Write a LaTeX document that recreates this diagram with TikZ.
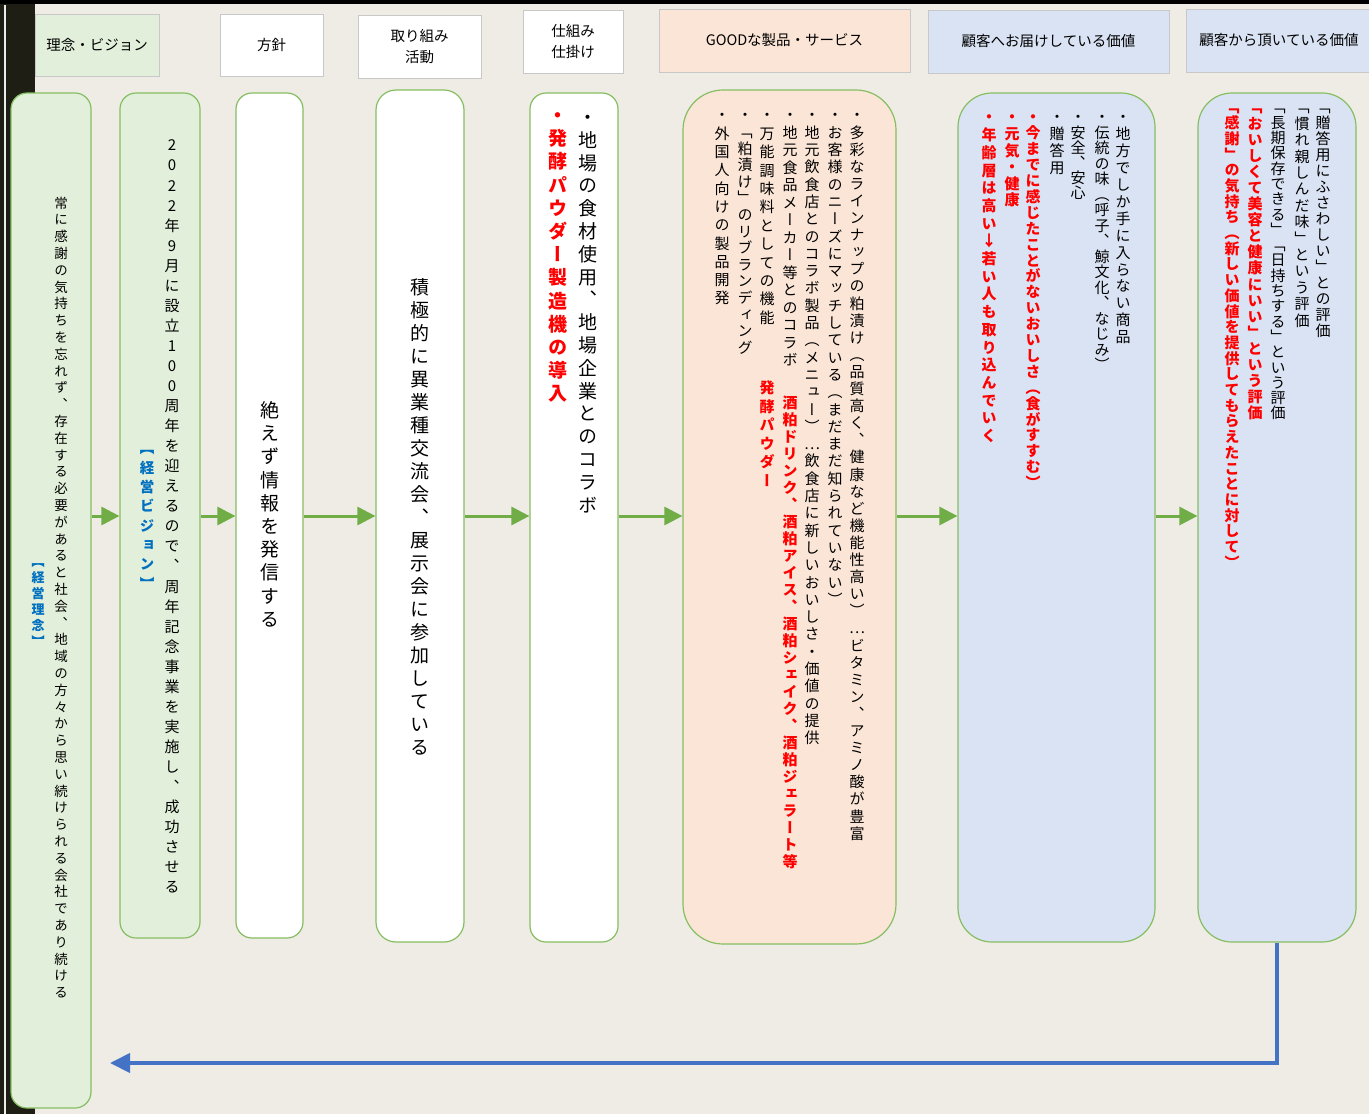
\documentclass[tikz,border=0pt]{standalone}
\usepackage{fontspec}
\usetikzlibrary{arrows.meta}
\newfontfamily\jpv[RawFeature=+vert]{Noto Sans CJK JP}
\newfontfamily\jph{Noto Sans CJK JP}
\definecolor{bgc}{HTML}{EFECE5}
\definecolor{band}{HTML}{1E1E14}
\definecolor{gfill}{HTML}{E2EFDA}
\definecolor{pfill}{HTML}{FBE5D6}
\definecolor{bfill}{HTML}{DAE3F3}
\definecolor{gborder}{HTML}{86BE62}
\definecolor{hborder}{HTML}{C8C8C8}
\definecolor{agreen}{HTML}{70AD47}
\definecolor{bline}{HTML}{4472C4}
\definecolor{rtxt}{HTML}{FF0000}
\definecolor{btxt}{HTML}{0070C0}
\ExplSyntaxOn
\dim_new:N \l_vt_pitch_dim
\NewDocumentCommand\vtext{O{17pt}m}{
  \dim_set:Nn \l_vt_pitch_dim {#1}
  \vbox{\offinterlineskip
    \tl_map_inline:nn {#2}{
      \hbox_to_wd:nn {1em}{\hss\vrule~height~.88em~depth~.12em~width~0pt\relax ##1\hss}
      \skip_vertical:n { \l_vt_pitch_dim - 1em }
    }
  }
}
\ExplSyntaxOff
\newcommand\vfs[1]{\fontsize{#1}{#1}\selectfont\jpv}
\newcommand\hfs[1]{\fontsize{#1}{20.5}\selectfont\jph}
\begin{document}
\begin{tikzpicture}[x=1pt,y=-1pt,
  hdr/.style={draw=hborder,line width=0.8pt,inner sep=0pt,align=center,font=\hfs{14.5}},
  bx/.style={draw=gborder,line width=1.2pt,inner sep=0pt},
  vt/.style={inner sep=0pt,anchor=north,text=black},
  vred/.style={vt,text=rtxt},
  vblue/.style={vt,text=btxt},
  garrow/.style={draw=agreen,line width=3pt,-{Triangle[length=18pt,width=18pt]}},
  barrow/.style={draw=bline,line width=4pt,-{Triangle[length=20pt,width=19pt]}}]
\useasboundingbox (0,0) rectangle (1369,1114);
\fill[bgc] (0,0) rectangle (1369,1114);
\fill[band] (0,0) rectangle (35,1114);
\fill[black] (0,0) rectangle (1369,3.5);
\draw[white!85!gray,line width=2pt] (4.5,5) -- (4.5,1114);
% headers
\node[hdr,fill=gfill,minimum width=124,minimum height=62] (h1) at (97,45) {理念・ビジョン};
\node[hdr,fill=white,minimum width=103,minimum height=62] (h2) at (271.5,45) {方針};
\node[hdr,fill=white,minimum width=123,minimum height=63] (h3) at (419.5,46.5) {取り組み\\活動};
\node[hdr,fill=white,minimum width=100,minimum height=63] (h4) at (573,41.5) {仕組み\\仕掛け};
\node[hdr,fill=pfill,minimum width=251,minimum height=63] (h5) at (784.5,40.5) {GOODな製品・サービス};
\node[hdr,fill=bfill,minimum width=241,minimum height=63] (h6) at (1048.5,41.5) {顧客へお届けしている価値};
\node[hdr,fill=bfill,minimum width=186,minimum height=63] (h7) at (1279,40.5) {顧客から頂いている価値};
% boxes
\node[bx,fill=gfill,rounded corners=16,minimum width=80,minimum height=1015] (b1) at (51,600.5) {};
\node[bx,fill=gfill,rounded corners=16,minimum width=80,minimum height=845] (b2) at (160,515.5) {};
\node[bx,fill=white,rounded corners=16,minimum width=67,minimum height=845] (b3) at (269.5,515.5) {};
\node[bx,fill=white,rounded corners=20,minimum width=88,minimum height=852] (b4) at (420,516) {};
\node[bx,fill=white,rounded corners=16,minimum width=88,minimum height=849] (b5) at (574,517.5) {};
\node[bx,fill=pfill,rounded corners=40,minimum width=213,minimum height=854] (b6) at (789.5,517) {};
\node[bx,fill=bfill,rounded corners=34,minimum width=197,minimum height=849] (b7) at (1056.5,517.5) {};
\node[bx,fill=bfill,rounded corners=34,minimum width=158,minimum height=849] (b8) at (1277,517.5) {};
% box 1
\node[vt,font=\vfs{13.5}] (t1a) at (61,196) {\vtext[16.8pt]{常に感謝の気持ちを忘れず、存在する必要があると社会、地域の方々から思い続けられる会社であり続ける}};
\node[vblue,font=\vfs{13}\bfseries] (t1b) at (38,554.5) {\vtext[16pt]{【経営理念】}};
% box 2
\node[vt,font=\vfs{15}] (t2a) at (172,137.5) {\vtext[20.05pt]{2022年9月に設立100周年を迎えるので、周年記念事業を実施し、成功させる}};
\node[vblue,font=\vfs{14.5}\bfseries] (t2b) at (147,441) {\vtext[19.3pt]{【経営ビジョン】}};
% box 3,4
\node[vt,font=\vfs{19}] (t3) at (270,400.5) {\vtext[23.2pt]{絶えず情報を発信する}};
\node[vt,font=\vfs{19}] (t4) at (420,277.5) {\vtext[23pt]{積極的に異業種交流会、展示会に参加している}};
% box 5
\node[vt,font=\vfs{19}] (t5a) at (588,107.5) {\vtext[22.8pt]{・地場の食材使用、地場企業とのコラボ}};
\node[vred,font=\vfs{19}\bfseries] (t5b) at (558,105.5) {\vtext[23.2pt]{・発酵パウダー製造機の導入}};
% box 6
\node[vt,font=\vfs{15}] (t6a) at (857,107.5) {\vtext[17.1pt]{・多彩なラインナップの粕漬け（品質高く、健康など機能性高い）…ビタミン、アミノ酸が豊富}};
\node[vt,font=\vfs{15}] (t6b) at (835,107.5) {\vtext[17.3pt]{・お客様のニーズにマッチしている（まだまだ知られていない）}};
\node[vt,font=\vfs{15}] (t6c) at (812,107.5) {\vtext[17.3pt]{・地元飲食店とのコラボ製品（メニュー）…飲食店に新しいおいしさ・価値の提供}};
\node[vt,font=\vfs{15}] (t6d) at (790,107.5) {\vtext[17.5pt]{・地元食品メーカー等とのコラボ}};
\node[vred,font=\vfs{15}\bfseries] (t6e) at (790,395.5) {\vtext[17pt]{酒粕ドリンク、酒粕アイス、酒粕シェイク、酒粕ジェラート等}};
\node[vt,font=\vfs{15}] (t6f) at (767,107.5) {\vtext[18.4pt]{・万能調味料としての機能}};
\node[vred,font=\vfs{15}\bfseries] (t6g) at (767,380.5) {\vtext[18.5pt]{発酵パウダー}};
\node[vt,font=\vfs{15}] (t6h) at (745,107.5) {\vtext[16.6pt]{・「粕漬け」のリブランディング}};
\node[vt,font=\vfs{15}] (t6i) at (722,107.5) {\vtext[18.3pt]{・外国人向けの製品開発}};
% box 7
\node[vt,font=\vfs{15}] (t7a) at (1123,109.5) {\vtext[16.9pt]{・地方でしか手に入らない商品}};
\node[vt,font=\vfs{15}] (t7b) at (1102,109.5) {\vtext[15.5pt]{・伝統の味（呼子、鯨文化、なじみ）}};
\node[vt,font=\vfs{15}] (t7c) at (1078,109.5) {\vtext[15.2pt]{・安全、安心}};
\node[vt,font=\vfs{15}] (t7d) at (1057,109.5) {\vtext[16.7pt]{・贈答用}};
\node[vred,font=\vfs{15}\bfseries] (t7e) at (1033,109.5) {\vtext[15.9pt]{・今までに感じたことがないおいしさ（食がすすむ）}};
\node[vred,font=\vfs{15}\bfseries] (t7f) at (1012,109.5) {\vtext[16.6pt]{・元気・健康}};
\node[vred,font=\vfs{15}\bfseries] (t7g) at (989,109.5) {\vtext[17.7pt]{・年齢層は高い{\jph ↓}若い人も取り込んでいく}};
% box 8
\node[vt,font=\vfs{15}] (t8a) at (1323,99.5) {\vtext[16pt]{「贈答用にふさわしい」との評価}};
\node[vt,font=\vfs{15}] (t8b) at (1302,99.5) {\vtext[16.4pt]{「慣れ親しんだ味」という評価}};
\node[vt,font=\vfs{15}] (t8c) at (1278,99.5) {\vtext[15.3pt]{「長期保存できる」「日持ちする」という評価}};
\node[vred,font=\vfs{15}\bfseries] (t8d) at (1255,99.5) {\vtext[16.1pt]{「おいしくて美容と健康にいい」という評価}};
\node[vred,font=\vfs{15}\bfseries] (t8e) at (1232,99.5) {\vtext[15.7pt]{「感謝」の気持ち（新しい価値を提供してもらえたことに対して）}};
% connectors
\coordinate (ay) at (0,516);
\draw[garrow] (b1.east |- ay) -- (b2.west |- ay);
\draw[garrow] (b2.east |- ay) -- (b3.west |- ay);
\draw[garrow] (b3.east |- ay) -- (b4.west |- ay);
\draw[garrow] (b4.east |- ay) -- (b5.west |- ay);
\draw[garrow] (b5.east |- ay) -- (b6.west |- ay);
\draw[garrow] (b6.east |- ay) -- (b7.west |- ay);
\draw[garrow] (b7.east |- ay) -- (b8.west |- ay);
\coordinate (ret) at (110,1063);
\draw[barrow] (b8.south) |- (ret);
\end{tikzpicture}
\end{document}
